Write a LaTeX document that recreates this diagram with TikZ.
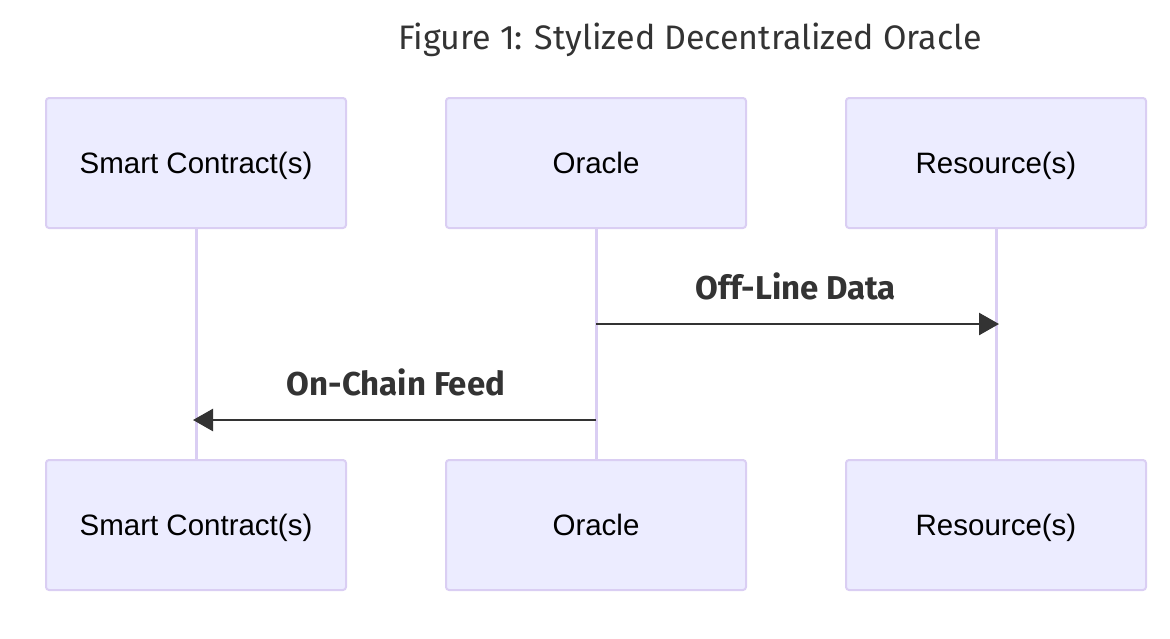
\documentclass[tikz,border=0pt]{standalone}
\usepackage{fontspec}
\setmainfont{Liberation Sans}
\newfontfamily\titlefont{Fira Sans}
\usetikzlibrary{arrows.meta}
\definecolor{actfill}{HTML}{ECECFF}
\definecolor{actline}{HTML}{DACEF3}
\definecolor{msg}{HTML}{333333}
\tikzset{
  actor/.style={draw=actline, line width=2pt, fill=actfill, rounded corners=3pt,
    minimum width=300pt, minimum height=130pt, inner sep=0pt,
    text height=21pt, text depth=0pt,
    font=\fontsize{29.5}{34}\selectfont},
  lifeline/.style={draw=actline, line width=3pt},
  msgarrow/.style={draw=msg, line width=2.6pt, -{Triangle[length=20pt,width=22pt]}},
  msglabel/.style={text=msg, inner sep=0pt, text height=22.5pt, text depth=0pt,
    font=\titlefont\bfseries\fontsize{33}{38}\selectfont},
}
\begin{document}
\begin{tikzpicture}[x=1pt,y=-1pt]
\useasboundingbox (0,0) rectangle (1170,638);
\node[text=msg, inner sep=0pt, text height=24pt, text depth=0pt, font=\titlefont\fontsize{34}{40}\selectfont] (title) at (690,37) {Figure 1: Stylized Decentralized Oracle};
\node[actor] (sct) at (196,163) {Smart Contract(s)};
\node[actor] (ort) at (596,163) {Oracle};
\node[actor] (rst) at (996,163) {Resource(s)};
\node[actor] (scb) at (196,525) {Smart Contract(s)};
\node[actor] (orb) at (596,525) {Oracle};
\node[actor] (rsb) at (996,525) {Resource(s)};
\draw[lifeline] (sct.south) -- (scb.north);
\draw[lifeline] (ort.south) -- (orb.north);
\draw[lifeline] (rst.south) -- (rsb.north);
\coordinate (o1) at (596,324);
\coordinate (r1) at (999,324);
\coordinate (o2) at (596,420);
\coordinate (s2) at (193,420);
\draw[msgarrow] (o1) -- (r1);
\draw[msgarrow] (o2) -- (s2);
\node[msglabel] (l1) at (796,288) {Off-Line Data};
\node[msglabel] (l2) at (396,384) {On-Chain Feed};
\end{tikzpicture}
\end{document}
